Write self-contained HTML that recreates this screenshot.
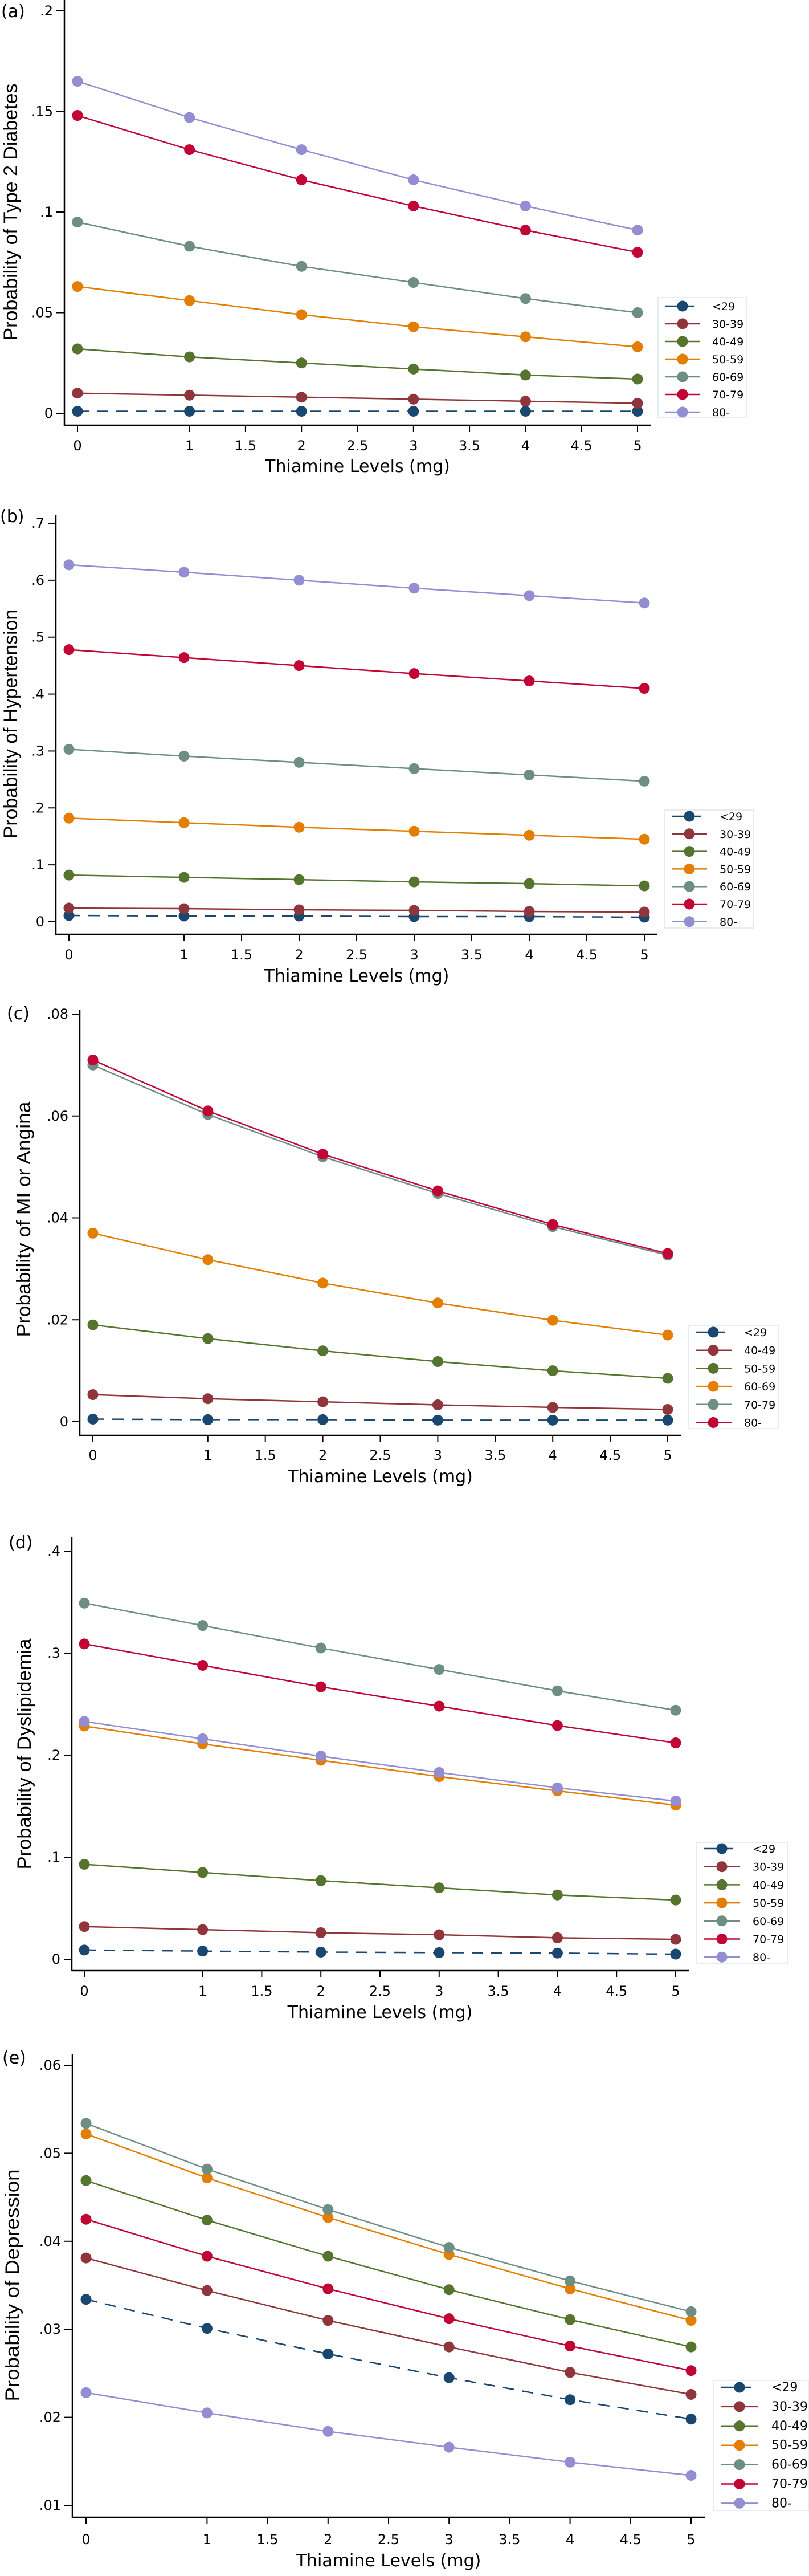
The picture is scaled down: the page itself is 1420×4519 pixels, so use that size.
<!DOCTYPE html>
<html><head><meta charset="utf-8">
<style>
html,body{margin:0;padding:0;background:#fff;}
svg{display:block;}
text{font-family:"DejaVu Sans","Liberation Sans",sans-serif;fill:#000;}
</style></head>
<body>
<svg id="fig" width="1420" height="4519" viewBox="0 0 1420 4519" xmlns="http://www.w3.org/2000/svg"></svg>
<script>
// ---- data ----
const xValues = [0, 1, 2, 3, 4, 5];
const xTickValues = [0, 1, 1.5, 2, 2.5, 3, 3.5, 4, 4.5, 5];
const xTickLabels = ["0", "1", "1.5", "2", "2.5", "3", "3.5", "4", "4.5", "5"];
const ageGroups7 = ["<29", "30-39", "40-49", "50-59", "60-69", "70-79", "80-"];
const ageGroupsC = ["<29", "40-49", "50-59", "60-69", "70-79", "80-"];

// (a) Type 2 Diabetes
const aTicks = [0, 0.05, 0.1, 0.15, 0.2];
const aTickLabels = ["0", ".05", ".1", ".15", ".2"];
const a_lt29 = [0.001, 0.001, 0.001, 0.001, 0.001, 0.001];
const a_30 = [0.010, 0.009, 0.008, 0.007, 0.006, 0.005];
const a_40 = [0.032, 0.028, 0.025, 0.022, 0.019, 0.017];
const a_50 = [0.063, 0.056, 0.049, 0.043, 0.038, 0.033];
const a_60 = [0.095, 0.083, 0.073, 0.065, 0.057, 0.050];
const a_70 = [0.148, 0.131, 0.116, 0.103, 0.091, 0.080];
const a_80 = [0.165, 0.147, 0.131, 0.116, 0.103, 0.091];

// (b) Hypertension
const bTicks = [0, 0.1, 0.2, 0.3, 0.4, 0.5, 0.6, 0.7];
const bTickLabels = ["0", ".1", ".2", ".3", ".4", ".5", ".6", ".7"];
const b_lt29 = [0.011, 0.010, 0.010, 0.009, 0.009, 0.008];
const b_30 = [0.024, 0.023, 0.021, 0.020, 0.018, 0.017];
const b_40 = [0.082, 0.078, 0.074, 0.070, 0.067, 0.063];
const b_50 = [0.182, 0.174, 0.166, 0.159, 0.152, 0.145];
const b_60 = [0.303, 0.291, 0.280, 0.269, 0.258, 0.247];
const b_70 = [0.478, 0.464, 0.450, 0.436, 0.423, 0.410];
const b_80 = [0.627, 0.614, 0.600, 0.586, 0.573, 0.560];

// (c) MI or Angina
const cTicks = [0, 0.02, 0.04, 0.06, 0.08];
const cTickLabels = ["0", ".02", ".04", ".06", ".08"];
const c_lt29 = [0.0005, 0.0004, 0.0004, 0.0003, 0.0003, 0.0003];
const c_40 = [0.0053, 0.0045, 0.0039, 0.0033, 0.0028, 0.0024];
const c_50 = [0.019, 0.0163, 0.0139, 0.0118, 0.0100, 0.0085];
const c_60 = [0.037, 0.0318, 0.0272, 0.0233, 0.0199, 0.017];
const c_70 = [0.070, 0.0603, 0.0520, 0.0448, 0.0383, 0.0327];
const c_80 = [0.071, 0.061, 0.0525, 0.0453, 0.0387, 0.033];

// (d) Dyslipidemia
const dTicks = [0, 0.1, 0.2, 0.3, 0.4];
const dTickLabels = ["0", ".1", ".2", ".3", ".4"];
const d_lt29 = [0.009, 0.008, 0.007, 0.0065, 0.006, 0.005];
const d_30 = [0.032, 0.029, 0.026, 0.024, 0.021, 0.0195];
const d_40 = [0.093, 0.085, 0.077, 0.070, 0.063, 0.058];
const d_50 = [0.2285, 0.211, 0.195, 0.179, 0.165, 0.151];
const d_60 = [0.349, 0.327, 0.305, 0.284, 0.263, 0.244];
const d_70 = [0.309, 0.288, 0.267, 0.248, 0.229, 0.212];
const d_80 = [0.233, 0.216, 0.199, 0.183, 0.168, 0.155];

// (e) Depression
const eTicks = [0.01, 0.02, 0.03, 0.04, 0.05, 0.06];
const eTickLabels = [".01", ".02", ".03", ".04", ".05", ".06"];
const e_lt29 = [0.0334, 0.0301, 0.0272, 0.0245, 0.0220, 0.0198];
const e_30 = [0.0381, 0.0344, 0.0310, 0.0280, 0.0251, 0.0226];
const e_40 = [0.0469, 0.0424, 0.0383, 0.0345, 0.0311, 0.0280];
const e_50 = [0.0522, 0.0472, 0.0427, 0.0385, 0.0346, 0.0310];
const e_60 = [0.0534, 0.0482, 0.0436, 0.0393, 0.0355, 0.0320];
const e_70 = [0.0425, 0.0383, 0.0346, 0.0312, 0.0281, 0.0253];
const e_80 = [0.0228, 0.0205, 0.0184, 0.0166, 0.0149, 0.0134];

// ---- styles ----
const colors = ["#1a476f", "#90353b", "#55752f", "#e37e00", "#6e8e84", "#c10534", "#938dd2"];
const NS = "http://www.w3.org/2000/svg";
const svg = document.getElementById("fig");

function mk(tag, attrs, parent) {
  const el = document.createElementNS(NS, tag);
  for (const k in attrs) el.setAttribute(k, attrs[k]);
  (parent || svg).appendChild(el);
  return el;
}

const panels = [
  {id:"a", label:"(a)", lx:2, ly:30, title:"Probability of Type 2 Diabetes", tx:18, tyc:372, tlen:0,
   ax:113, x0:136, x5:1119, vTop:0.2, yTop:19, vBot:0, yBot:725, axisY:746, axisTop:0, axisRight:1142,
   ticks:aTicks, tickLabels:aTickLabels, tickLabelY:790, titleY:828, fs:24,
   names:ageGroups7, series:[a_lt29,a_30,a_40,a_50,a_60,a_70,a_80], cidx:[0,1,2,3,4,5,6],
   leg:{x0:1155,x1:1310,y0:522,y1:733,r0:537,sp:31,mx:1198,l1:1167,l2:1229,tx:1250,fs:19}},
  {id:"b", label:"(b)", lx:0, ly:916, title:"Probability of Hypertension", tx:18, tyc:1270, tlen:402,
   ax:98, x0:121, x5:1131, vTop:0.7, yTop:918, vBot:0, yBot:1617, axisY:1639, axisTop:903, axisRight:1153,
   ticks:bTicks, tickLabels:bTickLabels, tickLabelY:1683, titleY:1722, fs:24,
   names:ageGroups7, series:[b_lt29,b_30,b_40,b_50,b_60,b_70,b_80], cidx:[0,1,2,3,4,5,6],
   leg:{x0:1167,x1:1323,y0:1421,y1:1628,r0:1432,sp:30.8,mx:1210,l1:1180,l2:1241,tx:1263,fs:19}},
  {id:"c", label:"(c)", lx:12, ly:1788, title:"Probability of MI or Angina", tx:41, tyc:2139, tlen:413,
   ax:140, x0:163, x5:1172, vTop:0.08, yTop:1779, vBot:0, yBot:2494, axisY:2518, axisTop:1772, axisRight:1195,
   ticks:cTicks, tickLabels:cTickLabels, tickLabelY:2561, titleY:2600, fs:24,
   names:ageGroupsC, series:[c_lt29,c_40,c_50,c_60,c_70,c_80], cidx:[0,1,2,3,4,5],
   leg:{x0:1209,x1:1367,y0:2325,y1:2506,r0:2337,sp:31.7,mx:1252,l1:1222,l2:1284,tx:1306,fs:19}},
  {id:"d", label:"(d)", lx:15, ly:2716, title:"Probability of Dyslipidemia", tx:42, tyc:3077, tlen:405,
   ax:126, x0:148, x5:1186, vTop:0.4, yTop:2721, vBot:0, yBot:3437, axisY:3457, axisTop:2697, axisRight:1209,
   ticks:dTicks, tickLabels:dTickLabels, tickLabelY:3501, titleY:3540, fs:24,
   names:ageGroups7, series:[d_lt29,d_30,d_40,d_50,d_60,d_70,d_80], cidx:[0,1,2,3,4,5,6],
   leg:{x0:1222,x1:1383,y0:3232,y1:3445,r0:3243,sp:31.7,mx:1267,l1:1236,l2:1299,tx:1321,fs:19}},
  {id:"e", label:"(e)", lx:4, ly:3620, title:"Probability of Depression", tx:21, tyc:4009, tlen:407,
   ax:127, x0:151, x5:1213, vTop:0.06, yTop:3623, vBot:0.01, yBot:4395, axisY:4416, axisTop:3603, axisRight:1237,
   ticks:eTicks, tickLabels:eTickLabels, tickLabelY:4463, titleY:4502, fs:24,
   names:ageGroups7, series:[e_lt29,e_30,e_40,e_50,e_60,e_70,e_80], cidx:[0,1,2,3,4,5,6],
   leg:{x0:1252,x1:1419,y0:4176,y1:4404,r0:4188,sp:33.9,mx:1298,l1:1265,l2:1331,tx:1354,fs:22}}
];

panels.forEach(p => {
  const g = mk("g", {});
  
  
  const xs = v => p.x0 + (p.x5 - p.x0) * v / 5;
  const ys = v => p.yBot + (p.yTop - p.yBot) * (v - p.vBot) / (p.vTop - p.vBot);

  const lab = mk("text", {x:p.lx, y:p.ly, "font-size":30}, g);
  lab.textContent = p.label;
  
  

  // axes
  const yAxis = mk("line", {x1:p.ax, y1:p.axisTop, x2:p.ax, y2:p.axisY+1, stroke:"#000", "stroke-width":2.5}, g);
  
  
  const xAxis = mk("line", {x1:p.ax, y1:p.axisY, x2:p.axisRight, y2:p.axisY, stroke:"#000", "stroke-width":2.5}, g);
  
  

  p.ticks.forEach((t, i) => {
    const y = ys(t);
    const tk = mk("line", {x1:p.ax-14, y1:y, x2:p.ax, y2:y, stroke:"#000", "stroke-width":2}, g);
    
    
    const tl = mk("text", {x:p.ax-20, y:y+8, "font-size":p.fs, "text-anchor":"end"}, g);
    tl.textContent = p.tickLabels[i];
    
    
  });
  xTickValues.forEach((t, i) => {
    const x = xs(t);
    const tk = mk("line", {x1:x, y1:p.axisY, x2:x, y2:p.axisY+12, stroke:"#000", "stroke-width":2}, g);
    
    
    const tl = mk("text", {x:x, y:p.tickLabelY, "font-size":p.fs, "text-anchor":"middle"}, g);
    tl.textContent = xTickLabels[i];
    
    
  });

  const xt = mk("text", {x:(p.x0+p.x5)/2, y:p.titleY, "font-size":30, "text-anchor":"middle"}, g);
  xt.textContent = "Thiamine Levels (mg)";
  
  

  const ytAttrs = {x:0, y:0, "font-size":34, "text-anchor":"middle",
    transform:"translate(" + (p.tx+12) + "," + p.tyc + ") rotate(-90)",
    style:"font-family:'Liberation Sans',sans-serif"};
  if (p.tlen) { ytAttrs.textLength = p.tlen; ytAttrs.lengthAdjust = "spacingAndGlyphs"; }
  const yt = mk("text", ytAttrs, g);
  yt.textContent = p.title;
  
  

  // series
  p.series.forEach((vals, si) => {
    const col = colors[p.cidx[si]];
    const sg = mk("g", {}, g);
    
    
    const pts = xValues.map((x, i) => xs(x) + "," + ys(vals[i])).join(" ");
    const pl = mk("polyline", {points:pts, fill:"none", stroke:col, "stroke-width":2.5}, sg);
    if (si === 0) pl.setAttribute("stroke-dasharray", "20 14");
    
    
    xValues.forEach((x, i) => {
      const c = mk("circle", {cx:xs(x), cy:ys(vals[i]), r:9.5, fill:col}, sg);
      
      
    });
  });

  // legend
  const L = p.leg;
  const lg = mk("g", {}, g);
  
  
  mk("rect", {x:L.x0, y:L.y0, width:L.x1-L.x0, height:L.y1-L.y0, fill:"#fff", stroke:"#e4edf1", "stroke-width":2}, lg);
  p.names.forEach((n, i) => {
    const col = colors[p.cidx[i]];
    const y = L.r0 + L.sp * i;
    const eg = mk("g", {}, lg);
    
    
    const ln = mk("line", {x1:L.l1, y1:y, x2: i===0 ? L.mx + 20 : L.l2, y2:y, stroke:col, "stroke-width":2.5}, eg);
    mk("circle", {cx:L.mx, cy:y, r:9.5, fill:col}, eg);
    const t = mk("text", {x:L.tx, y:y+7, "font-size":L.fs}, eg);
    t.textContent = n;
  });
});
</script>
</body></html>
